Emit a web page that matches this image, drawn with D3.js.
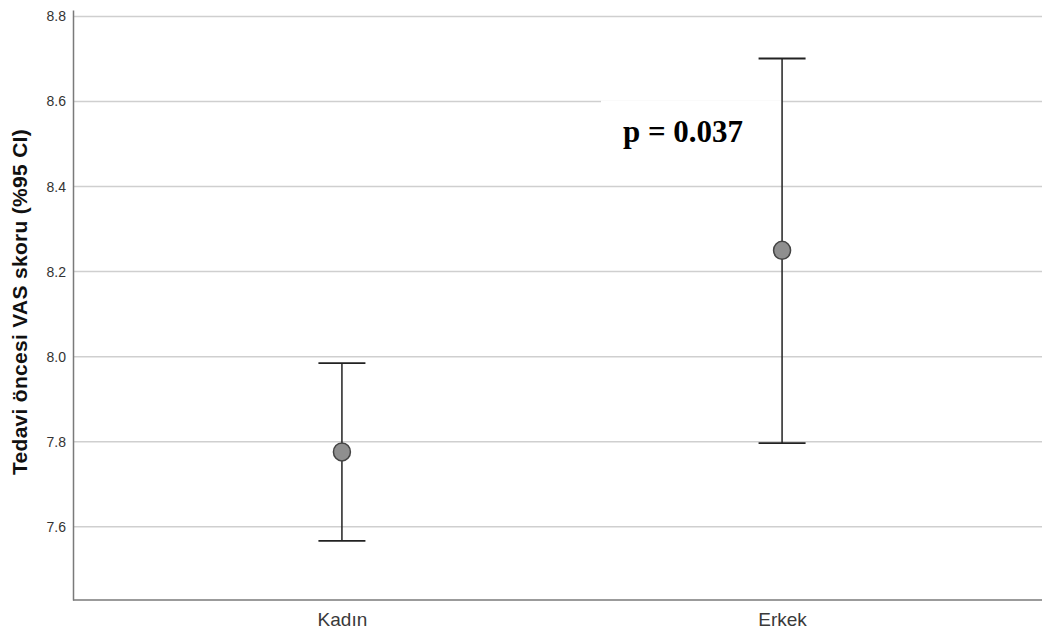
<!DOCTYPE html>
<html>
<head>
<meta charset="utf-8">
<script src="https://cdn.jsdelivr.net/npm/d3@7"></script>
<style>
  body { margin: 0; background: #fff; }
  svg { display: block; }
</style>
</head>
<body>
<svg id="chart"></svg>
<script>
// Data
let groups = ["Kadın", "Erkek"];
let means = [7.776, 8.250];
let lowerCI = [7.567, 7.797];
let upperCI = [7.985, 8.701];
let yTicks = [7.6, 7.8, 8.0, 8.2, 8.4, 8.6, 8.8];
let yTitle = "Tedavi öncesi VAS skoru (%95 CI)";
let pLabel = "p = 0.037";

let width = 1042;
let height = 634;
let margin = { top: 10, right: 0, bottom: 34, left: 73 };

let svg = d3.select("#chart")
    .attr("width", width)
    .attr("height", height);

// Scales
let x = d3.scalePoint()
    .domain(groups)
    .range([margin.left, 1051])
    .padding(0.611);

let y = d3.scaleLinear()
    .domain([7.428, 8.815])
    .range([height - margin.bottom, margin.top]);

// Gridlines
svg.append("g")
    .selectAll("line")
    .data(yTicks)
    .enter()
    .append("line")
    .attr("x1", margin.left)
    .attr("x2", width)
    .attr("y1", (d) => y(d))
    .attr("y2", (d) => y(d))
    .style("stroke", "#cfcfcf")
    .style("stroke-width", 1.5);

// Y axis
let yAxis = svg.append("g")
    .attr("transform", `translate(${margin.left},0)`)
    .call(d3.axisLeft(y).tickValues(yTicks).tickSize(0).tickPadding(7).tickFormat(d3.format(".1f")));
yAxis.select(".domain").style("stroke", "#7a7a7a").style("stroke-width", 1.5);
yAxis.selectAll("text")
    .style("font-family", "Liberation Sans, Arial, sans-serif")
    .style("font-size", "14px")
    .style("fill", "#333");

// X axis
let xAxis = svg.append("g")
    .attr("transform", `translate(0,${height - margin.bottom})`)
    .call(d3.axisBottom(x).tickSize(0).tickPadding(13));
xAxis.select(".domain")
    .attr("d", `M${margin.left},0H${width}`)
    .style("stroke", "#7a7a7a")
    .style("stroke-width", 1.5);
xAxis.selectAll("text")
    .style("font-family", "Liberation Sans, Arial, sans-serif")
    .style("font-size", "19px")
    .style("fill", "#3a3a3a");

// Y axis title
svg.append("text")
    .attr("transform", `translate(27,302) rotate(-90)`)
    .attr("text-anchor", "middle")
    .style("font-family", "Liberation Sans, Arial, sans-serif")
    .style("font-weight", "bold")
    .style("font-size", "21px")
    .style("letter-spacing", "0.3px")
    .style("fill", "#111")
    .text(yTitle);

// White label box with p value
svg.append("rect")
    .attr("x", 601)
    .attr("y", y(8.6) - 1)
    .attr("width", x("Erkek") - 601)
    .attr("height", 60)
    .style("fill", "#fff");

svg.append("text")
    .attr("x", 683)
    .attr("y", 142)
    .attr("text-anchor", "middle")
    .style("font-family", "Liberation Serif, Times New Roman, serif")
    .style("font-weight", "bold")
    .style("font-size", "31px")
    .style("fill", "#000")
    .text(pLabel);

// Error bars
let rows = groups.map((g, i) => ({ group: g, mean: means[i], lo: lowerCI[i], hi: upperCI[i] }));
let capHalf = 23.5;

let bars = svg.append("g")
    .selectAll("g")
    .data(rows)
    .enter()
    .append("g");

bars.append("line")
    .attr("x1", (d) => x(d.group))
    .attr("x2", (d) => x(d.group))
    .attr("y1", (d) => y(d.lo))
    .attr("y2", (d) => y(d.hi))
    .style("stroke", "#222")
    .style("stroke-width", 1.5);

bars.append("line")
    .attr("x1", (d) => x(d.group) - capHalf)
    .attr("x2", (d) => x(d.group) + capHalf)
    .attr("y1", (d) => y(d.hi))
    .attr("y2", (d) => y(d.hi))
    .style("stroke", "#222")
    .style("stroke-width", 1.8);

bars.append("line")
    .attr("x1", (d) => x(d.group) - capHalf)
    .attr("x2", (d) => x(d.group) + capHalf)
    .attr("y1", (d) => y(d.lo))
    .attr("y2", (d) => y(d.lo))
    .style("stroke", "#222")
    .style("stroke-width", 1.8);

bars.append("ellipse")
    .attr("cx", (d) => x(d.group))
    .attr("cy", (d) => y(d.mean))
    .attr("rx", 8.5)
    .attr("ry", 9)
    .style("fill", "#8f8f8f")
    .style("stroke", "#444")
    .style("stroke-width", 1.5);
</script>
</body>
</html>
